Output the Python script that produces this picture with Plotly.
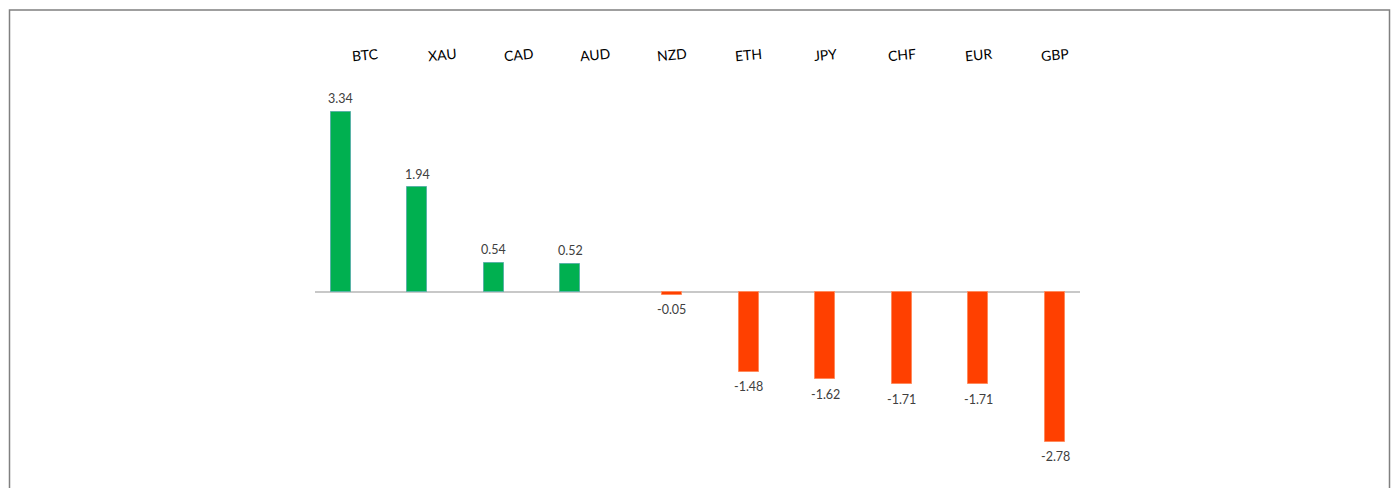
import plotly.graph_objects as go

categories = ["BTC", "XAU", "CAD", "AUD", "NZD", "ETH", "JPY", "CHF", "EUR", "GBP"]
values = [3.34, 1.94, 0.54, 0.52, -0.05, -1.48, -1.62, -1.71, -1.71, -2.78]

fill_colors = ["#00B050" if v >= 0 else "#FF4000" for v in values]
line_colors = ["#5AB3A6" if v >= 0 else "#FF8A5C" for v in values]

bar_w = 0.26
shift_units = 0.325  # first four columns sit left of their category labels in the reference
offsets = [-bar_w / 2 - shift_units if i < 4 else -bar_w / 2 for i in range(len(values))]

FONT = "Lato, Open Sans, sans-serif"

L, R, T, B = 315, 1080, 75, 470
W, H = 1394, 488
unit_px = (R - L) / (9.326 + 0.659)

fig = go.Figure()
fig.add_trace(go.Bar(
    x=categories,
    y=values,
    width=bar_w,
    offset=offsets,
    marker=dict(color=fill_colors, line=dict(color=line_colors, width=1)),
    hoverinfo="x+y",
))

def px_x(p):
    return (p - L) / (R - L)

def px_y(p):
    return (B - p) / (B - T)

annotations = [
    dict(x=c, y=px_y(55), xref="x", yref="paper", text=c, showarrow=False,
         textangle=-5, xanchor="center", yanchor="middle",
         font=dict(family=FONT, size=14, color="#000000"))
    for c in categories
]
for i, (c, v) in enumerate(zip(categories, values)):
    annotations.append(dict(
        x=c, y=v, xref="x", yref="y", text=f"{v:.2f}", showarrow=False,
        xanchor="center", yanchor="middle",
        xshift=-shift_units * unit_px if i < 4 else 0,
        yshift=13 if v >= 0 else -15,
        font=dict(family=FONT, size=12.5, color="#404040"),
    ))

fig.update_layout(
    width=W, height=H,
    margin=dict(l=L, r=W - R, t=T, b=H - B, pad=0),
    paper_bgcolor="white",
    plot_bgcolor="white",
    showlegend=False,
    bargap=0,
    xaxis=dict(
        type="category",
        range=[-0.659, 9.326],
        showgrid=False, showline=False, zeroline=False,
        ticks="", showticklabels=False,
    ),
    yaxis=dict(
        range=[-(B - 292) / 53.9, (292 - T) / 53.9],
        showgrid=False, showticklabels=False, showline=False,
        zeroline=True, zerolinecolor="#C8C8C8", zerolinewidth=1.5,
    ),
    annotations=annotations,
    shapes=[dict(
        type="rect", xref="paper", yref="paper",
        x0=px_x(9.5), x1=px_x(1389.5), y0=px_y(500), y1=px_y(10),
        line=dict(color="#808080", width=1.5), fillcolor="rgba(0,0,0,0)",
        layer="below",
    )],
)

fig.write_html("out.html")
